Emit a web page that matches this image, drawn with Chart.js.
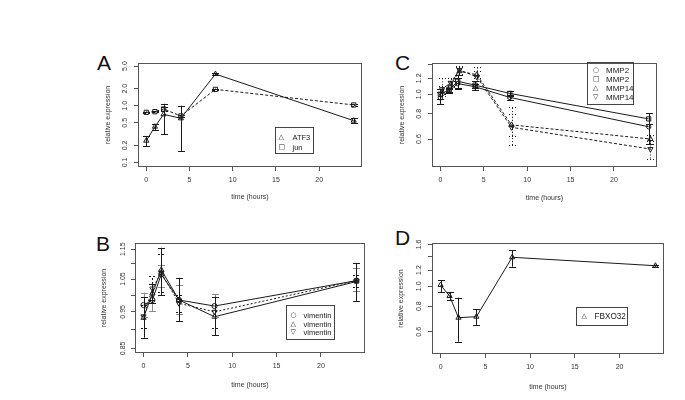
<!DOCTYPE html>
<html><head><meta charset="utf-8">
<script src="https://cdn.jsdelivr.net/npm/chart.js@4.4.1/dist/chart.umd.min.js"></script>
<style>
body{margin:0;background:#fff;width:685px;height:400px;position:relative;overflow:hidden;font-family:"Liberation Sans",Arial,sans-serif;}
canvas{position:absolute;}
.lt{position:absolute;font-size:21px;color:#111;line-height:21px;}
.lg{position:absolute;border:1px solid #444;box-sizing:border-box;color:#222;}
.lg div{position:absolute;white-space:nowrap;line-height:9px;}
.sym{font-family:"DejaVu Sans",sans-serif;}
</style></head><body>
<div class="lt" style="left:97px;top:52px">A</div>
<div class="lt" style="left:96px;top:233px">B</div>
<div class="lt" style="left:395px;top:52px">C</div>
<div class="lt" style="left:395px;top:227px">D</div>
<canvas id="cA"></canvas><canvas id="cB"></canvas><canvas id="cC"></canvas><canvas id="cD"></canvas>
<script>
// ---- shared ----
const times = [0, 1, 2, 4, 8, 24];
const timesShift = [0.2, 1.2, 2.2, 4.2, 8.2, 24.2];
const xTicks = [0, 5, 10, 15, 20];

// ---- Panel A ----
const aTicks = [0.1, 0.2, 0.5, 1, 2, 5];
const aTickLabels = ['0.1', '0.2', '0.5', '1.0', '2.0', '5.0'];
const atf3 = [0.242, 0.427, 0.705, 0.60, 3.61, 0.545];
const atf3Lo = [0.195, 0.373, 0.314, 0.16, 3.45, 0.49];
const atf3Hi = [0.293, 0.476, 1.08, 1.0, 3.78, 0.60];
const jun = [0.765, 0.785, 0.875, 0.66, 1.94, 1.03];
const junLo = [0.74, 0.76, 0.80, 0.62, 1.88, 0.99];
const junHi = [0.79, 0.81, 0.95, 0.70, 2.00, 1.07];
const aLegend = ['ATF3', 'jun'];

// ---- Panel B ----
const bTicks = [0.85, 0.90, 0.95, 1.00, 1.05, 1.10, 1.15];
const bTickLabels = ['0.85', '', '0.95', '', '1.05', '', '1.15'];
const vim1 = [0.970, 0.985, 1.065, 0.985, 0.967, 1.045];
const vim1Lo = [0.935, 0.952, 1.025, 0.945, 0.935, 1.012];
const vim1Hi = [1.007, 1.025, 1.096, 1.030, 1.002, 1.085];
const vim2 = [0.933, 1.005, 1.080, 0.985, 0.936, 1.042];
const vim2Lo = [0.878, 0.975, 1.000, 0.924, 0.885, 0.982];
const vim2Hi = [0.993, 1.035, 1.155, 1.054, 0.995, 1.103];
const vim3 = [0.937, 1.020, 1.070, 0.975, 0.950, 1.045];
const vim3Lo = [0.905, 0.985, 1.010, 0.950, 0.905, 1.025];
const vim3Hi = [0.970, 1.060, 1.132, 1.000, 0.995, 1.063];
const bLegend = ['vimentin', 'vimentin', 'vimentin'];

// ---- Panel C ----
const cTicks = [0.6, 0.8, 1.0, 1.2, 1.4];
const cTickLabels = ['0.6', '0.8', '1.0', '1.2', ''];
const mmp2a = [0.96, 1.04, 1.13, 1.09, 0.965, 0.69];
const mmp2aLo = [0.89, 1.02, 1.06, 1.05, 0.94, 0.565];
const mmp2aHi = [1.03, 1.06, 1.20, 1.13, 0.99, 0.71];
const mmp2b = [1.00, 1.05, 1.16, 1.11, 1.01, 0.755];
const mmp2bLo = [0.95, 1.03, 1.07, 1.07, 0.98, 0.71];
const mmp2bHi = [1.06, 1.07, 1.25, 1.16, 1.04, 0.805];
const mmp14a = [1.03, 1.12, 1.30, 1.25, 0.705, 0.60];
const mmp14aLo = [0.98, 1.09, 1.24, 1.20, 0.623, 0.565];
const mmp14aHi = [1.10, 1.16, 1.36, 1.31, 0.80, 0.628];
const mmp14b = [1.06, 1.14, 1.32, 1.22, 0.686, 0.535];
const mmp14bLo = [1.00, 1.10, 1.26, 1.17, 0.56, 0.48];
const mmp14bHi = [1.20, 1.20, 1.38, 1.36, 0.86, 0.587];
const cLegend = ['MMP2', 'MMP2', 'MMP14', 'MMP14'];

// ---- Panel D ----
const dTicks = [0.6, 0.8, 1.0, 1.2, 1.4, 1.6];
const dTickLabels = ['0.6', '0.8', '1.0', '1.2', '', '1.6'];
const fbxo32 = [1.015, 0.897, 0.703, 0.711, 1.385, 1.26];
const fbxo32Lo = [0.935, 0.860, 0.537, 0.648, 1.246, 1.245];
const fbxo32Hi = [1.073, 0.935, 0.880, 0.772, 1.503, 1.275];
const dLegend = ['FBXO32'];

// ---- drawing helpers ----
Chart.defaults.font.family = '"Liberation Sans", Arial, sans-serif';
Chart.defaults.color = '#333';

const errBox = {
  id: 'errBox',
  afterDatasetsDraw(chart) {
    const {ctx, chartArea: a, scales: {x, y}} = chart;
    chart.data.datasets.forEach(ds => {
      if (!ds.errLo) return;
      ctx.save();
      ctx.strokeStyle = ds.errColor || '#1a1a1a';
      ctx.lineWidth = 1;
      ctx.setLineDash(ds.errDash || []);
      ds.data.forEach((p, i) => {
        const px = Math.round(x.getPixelForValue(p.x)) + 0.5;
        const y1 = y.getPixelForValue(ds.errLo[i]);
        const y2 = y.getPixelForValue(ds.errHi[i]);
        ctx.beginPath();
        ctx.moveTo(px, y1); ctx.lineTo(px, y2);
        ctx.moveTo(px - 3.5, Math.round(y1) + 0.5); ctx.lineTo(px + 3.5, Math.round(y1) + 0.5);
        ctx.moveTo(px - 3.5, Math.round(y2) + 0.5); ctx.lineTo(px + 3.5, Math.round(y2) + 0.5);
        ctx.stroke();
      });
      ctx.restore();
    });
    ctx.save();
    ctx.strokeStyle = '#555';
    ctx.lineWidth = 1;
    ctx.strokeRect(Math.round(a.left) + 0.5, Math.round(a.top) + 0.5,
      Math.round(a.right - a.left) - 1, Math.round(a.bottom - a.top) - 1);
    ctx.restore();
  }
};

function series(tArr, vals, lo, hi, style) {
  return Object.assign({
    data: tArr.map((t, i) => ({x: t, y: vals[i]})),
    errLo: lo, errHi: hi,
    borderColor: '#1a1a1a', borderWidth: 1,
    pointBorderColor: '#1a1a1a', pointBackgroundColor: 'rgba(0,0,0,0)',
    pointBorderWidth: 1, pointRadius: 3, tension: 0, fill: false
  }, style);
}

function makePanel(id, box, yMin, yMax, yTicks, yLabels, yPad, yTitlePad, xTitlePad, datasets) {
  const cv = document.getElementById(id);
  const W = box.r - box.l + 58, H = box.b - box.t + 50;
  cv.width = W; cv.height = H;
  cv.style.left = (box.l - 50) + 'px';
  cv.style.top = (box.t - 10) + 'px';
  cv.style.width = W + 'px'; cv.style.height = H + 'px';
  const gridOpt = {display: true, drawOnChartArea: false, drawTicks: true, tickLength: 4, color: '#555', lineWidth: 1};
  new Chart(cv, {
    type: 'line',
    data: {datasets},
    options: {
      responsive: false, animation: false, devicePixelRatio: 1,
      layout: {padding: {left: 0, top: 10, right: 8, bottom: 0}},
      plugins: {legend: {display: false}, tooltip: {enabled: false}},
      scales: {
        x: {
          type: 'linear', min: -0.96, max: 24.96, bounds: 'data',
          afterBuildTicks: s => { s.ticks = xTicks.map(v => ({value: v})); },
          afterFit: s => { s.height = 40; },
          grid: gridOpt, border: {display: false},
          ticks: {autoSkip: false, maxRotation: 0, padding: 5, color: '#333', font: {size: 7},
            callback: (v, i) => String(xTicks[i])},
          title: {display: true, text: 'time (hours)', color: '#333', font: {size: 7},
            padding: {top: 0, bottom: xTitlePad}}
        },
        y: {
          type: 'logarithmic', min: yMin, max: yMax, bounds: 'data',
          afterBuildTicks: s => { s.ticks = yTicks.map(v => ({value: v})); },
          afterFit: s => { s.width = 50; },
          grid: gridOpt, border: {display: false},
          ticks: {autoSkip: false, minRotation: 90, maxRotation: 90, crossAlign: 'center',
            padding: yPad, color: '#333', font: {size: 7},
            callback: (v, i) => yLabels[i]},
          title: {display: true, text: 'relative expression', color: '#333', font: {size: 7},
            padding: {top: yTitlePad, bottom: 0}}
        }
      }
    },
    plugins: [errBox]
  });
}

function makeLegend(left, top, w, h, symbols, labels, rows, symX, txtX, fs) {
  const d = document.createElement('div');
  d.className = 'lg';
  Object.assign(d.style, {left: left + 'px', top: top + 'px', width: w + 'px', height: h + 'px'});
  labels.forEach((lab, i) => {
    const s = document.createElement('div');
    s.className = 'sym';
    s.textContent = symbols[i];
    Object.assign(s.style, {left: symX + 'px', top: (rows[i] - 4.5) + 'px', fontSize: '7px'});
    const t = document.createElement('div');
    t.textContent = lab;
    Object.assign(t.style, {left: txtX + 'px', top: (rows[i] - 4.5) + 'px', fontSize: fs + 'px'});
    d.appendChild(s); d.appendChild(t);
  });
  document.body.appendChild(d);
}

// Panel A
makePanel('cA', {l: 138, t: 63, r: 362, b: 167}, 0.0833, 5.65, aTicks, aTickLabels, 3.6, 15.8, 5.8, [
  series(times, atf3, atf3Lo, atf3Hi, {pointStyle: 'triangle'}),
  series(times, jun, junLo, junHi, {pointStyle: 'rect', borderDash: [3, 2], errDash: [3, 2]})
]);
// Panel B
makePanel('cB', {l: 135, t: 243, r: 365, b: 353}, 0.838, 1.172, bTicks, bTickLabels, 1.5, 14.8, 3.8, [
  series(times, vim1, vim1Lo, vim1Hi, {pointStyle: 'circle', pointRadius: 2.6, errColor: '#8a8a8a'}),
  series(times, vim2, vim2Lo, vim2Hi, {pointStyle: 'triangle'}),
  series(times, vim3, vim3Lo, vim3Hi, {pointStyle: 'triangle', pointRotation: 180, borderDash: [2, 2], errDash: [2, 2]})
]);
// Panel C
makePanel('cC', {l: 432, t: 63, r: 657, b: 167}, 0.436, 1.429, cTicks, cTickLabels, 4.4, 15.5, 4.5, [
  series(times, mmp2a, mmp2aLo, mmp2aHi, {pointStyle: 'circle', pointRadius: 2.2}),
  series(times, mmp2b, mmp2bLo, mmp2bHi, {pointStyle: 'rect'}),
  series(timesShift, mmp14a, mmp14aLo, mmp14aHi, {pointStyle: 'triangle', borderDash: [3, 2], errDash: [1, 2]}),
  series(timesShift, mmp14b, mmp14bLo, mmp14bHi, {pointStyle: 'triangle', pointRotation: 180, borderDash: [3, 2], errDash: [1, 2]})
]);
// Panel D
makePanel('cD', {l: 432, t: 243, r: 664, b: 354}, 0.4676, 1.626, dTicks, dTickLabels, 3.8, 14.5, 3.1, [
  series(times, fbxo32, fbxo32Lo, fbxo32Hi, {pointStyle: 'triangle'})
]);

// Legends
makeLegend(275, 127, 39, 27, ['\u25B3', '\u25A1'], aLegend, [9.7, 19], 2.5, 16.5, 7.5);
makeLegend(286, 305, 49, 35, ['\u25CB', '\u25B3', '\u25BD'], bLegend, [9.3, 18.3, 26.7], 3.5, 16.5, 7.5);
makeLegend(587, 62, 47, 43, ['\u25CB', '\u25A1', '\u25B3', '\u25BD'], cLegend, [7.8, 16.8, 25.8, 34.5], 5, 18, 8);
makeLegend(576, 307, 52, 19, ['\u25B3'], dLegend, [8.5], 4.5, 17.5, 8.2);
</script>
</body></html>
